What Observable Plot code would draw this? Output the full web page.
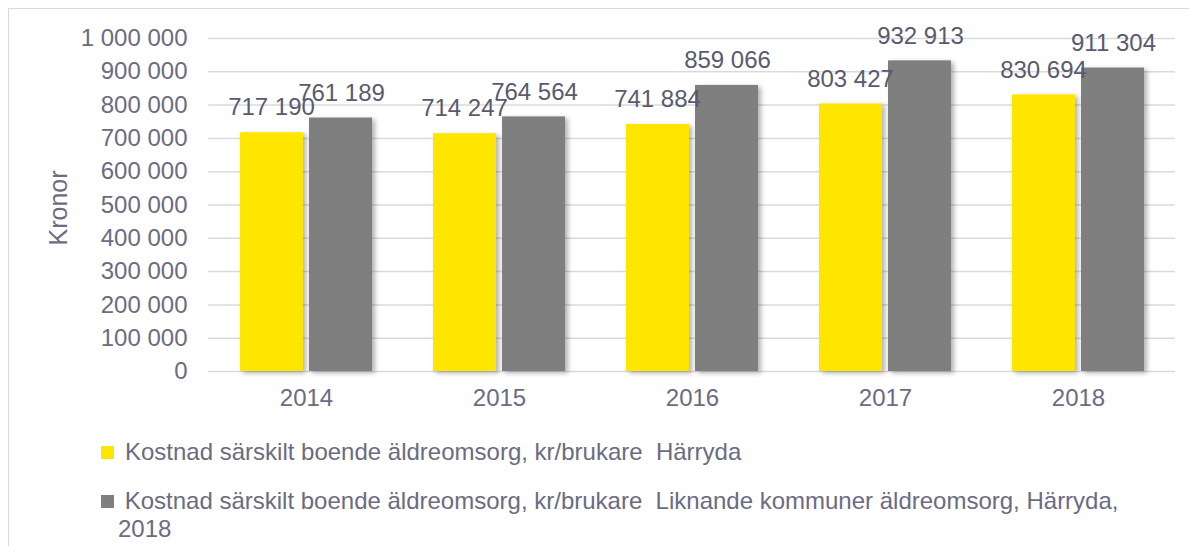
<!DOCTYPE html>
<html>
<head>
<meta charset="utf-8">
<script src="https://cdn.jsdelivr.net/npm/d3@7"></script>
<script src="https://cdn.jsdelivr.net/npm/@observablehq/plot@0.6"></script>
<style>
  html, body { margin: 0; padding: 0; background: #fff; }
  body { width: 1189px; height: 546px; position: relative; overflow: hidden;
         font-family: "Liberation Sans", Arial, sans-serif; }
  #frame { position: absolute; left: 8px; top: 8px; width: 1200px; height: 600px;
           border-left: 1px solid #d9d9de; border-top: 1px solid #d9d9de; }
  #chart { position: absolute; left: 0; top: 0; }
  .leg { position: absolute; font-size: 24px; color: #6b6b82; white-space: pre; line-height: 28px; }
  .sw { position: absolute; width: 13px; height: 13px; }
</style>
</head>
<body>
<div id="frame"></div>
<div id="chart"></div>
<div class="sw" style="left:101px; top:446px; background:#FFE600"></div>
<div class="leg" style="left:125px; top:438px;">Kostnad särskilt boende äldreomsorg, kr/brukare  Härryda</div>
<div class="sw" style="left:101px; top:495px; background:#7F7F7F"></div>
<div class="leg" style="left:118px; top:487px;"> Kostnad särskilt boende äldreomsorg, kr/brukare  Liknande kommuner äldreomsorg, Härryda,
2018</div>
<script>
const years = ["2014", "2015", "2016", "2017", "2018"];
const seriesNames = ["Härryda", "Liknande kommuner äldreomsorg, Härryda, 2018"];
const harryda = [717190, 714247, 741884, 803427, 830694];
const liknande = [761189, 764564, 859066, 932913, 911304];
const yTicks = [0, 100000, 200000, 300000, 400000, 500000, 600000, 700000, 800000, 900000, 1000000];
const yTitle = "Kronor";
const colors = ["#FFE600", "#7F7F7F"];

const data = [];
years.forEach((y, i) => {
  data.push({year: y, series: seriesNames[0], value: harryda[i]});
  data.push({year: y, series: seriesNames[1], value: liknande[i]});
});

const fmt = d3.formatLocale({decimal: ",", thousands: " ", grouping: [3], currency: ["", " kr"]}).format(",d");

const barW = 63, gap = 6;
const bandW = 132;
const inset = bandW - barW;
const axisColor = "#6b6b82";
const labelColor = "#5a5a6e";
const fs = 24;

const chart = Plot.plot({
  width: 1189,
  height: 425,
  marginLeft: 208,
  marginRight: 14,
  marginTop: 38,
  marginBottom: 54,
  style: {fontSize: fs + "px", fontFamily: "'Liberation Sans', Arial, sans-serif", background: "transparent", overflow: "visible"},
  x: {domain: years, paddingInner: 0.3175, paddingOuter: 0.15875, label: null},
  y: {domain: [0, 1000000], label: null},
  color: {domain: seriesNames, range: colors},
  marks: [
    Plot.ruleY(yTicks, {stroke: "#d9d9e0", strokeWidth: 1.5}),
    Plot.barY(data.filter(d => d.series === seriesNames[0]), {x: "year", y: "value", fill: "series", insetRight: inset}),
    Plot.barY(data.filter(d => d.series === seriesNames[1]), {x: "year", y: "value", fill: "series", insetLeft: inset}),
    Plot.text(data.filter(d => d.series === seriesNames[0]), {x: "year", y: "value", text: d => fmt(d.value), dx: -(barW + gap) / 2 - 0.5, dy: -25, fill: labelColor, fontSize: fs, lineAnchor: "middle"}),
    Plot.text(data.filter(d => d.series === seriesNames[1]), {x: "year", y: "value", text: d => fmt(d.value), dx: (barW + gap) / 2 + 0.5, dy: -25, fill: labelColor, fontSize: fs, lineAnchor: "middle"}),
    Plot.axisY({ticks: yTicks, tickFormat: fmt, tickSize: 0, tickPadding: 21, fill: axisColor, fontSize: fs, label: null}),
    Plot.text([yTitle], {frameAnchor: "left", text: d => d, rotate: -90, dx: -150, dy: 3, fill: axisColor, fontSize: 25, lineAnchor: "middle", textAnchor: "middle"}),
    Plot.axisX({tickSize: 0, tickPadding: 17, fill: axisColor, fontSize: fs, label: null})
  ]
});

const svg = d3.select(chart);
const defs = svg.insert("defs", ":first-child");
const f = defs.append("filter").attr("id", "sh").attr("x", "-10%").attr("y", "-10%").attr("width", "130%").attr("height", "130%");
f.append("feDropShadow").attr("dx", 3).attr("dy", 2).attr("stdDeviation", 2.5).attr("flood-color", "#000").attr("flood-opacity", 0.3);
svg.selectAll("g[aria-label='bar'] rect").attr("filter", "url(#sh)");

document.getElementById("chart").appendChild(chart);
</script>
</body>
</html>
